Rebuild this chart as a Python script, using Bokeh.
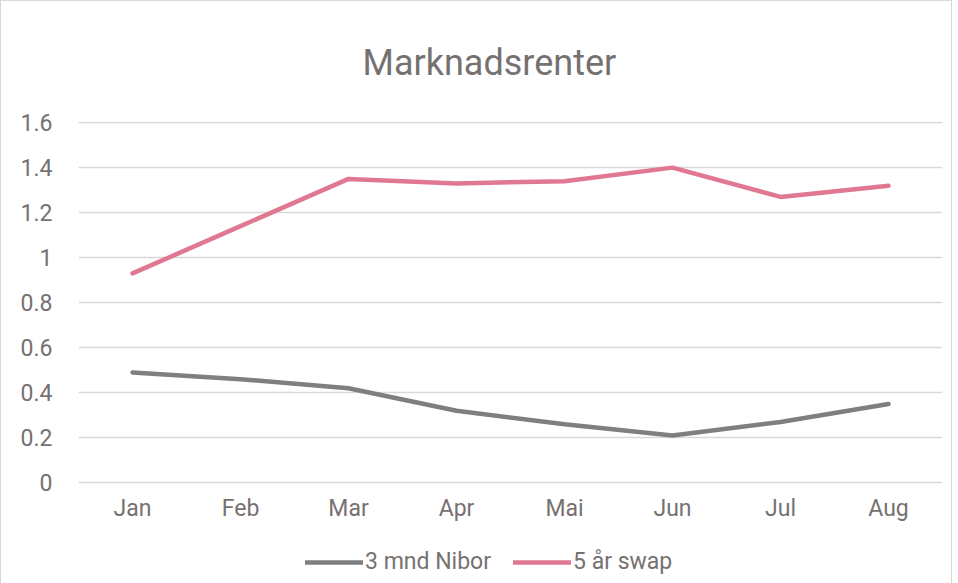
from bokeh.plotting import figure
from bokeh.models import Legend, LegendItem, FixedTicker, NumeralTickFormatter, Range1d, ColumnDataSource
from bokeh.core.properties import value
from bokeh.embed import file_html
from bokeh.resources import INLINE

months = ["Jan", "Feb", "Mar", "Apr", "Mai", "Jun", "Jul", "Aug"]
nibor_3m = [0.49, 0.46, 0.42, 0.32, 0.26, 0.21, 0.27, 0.35]
swap_5y = [0.93, 1.14, 1.35, 1.33, 1.34, 1.40, 1.27, 1.32]
y_ticks = [0, 0.2, 0.4, 0.6, 0.8, 1.0, 1.2, 1.4, 1.6]

TXT = "#767171"
FONT = "Roboto"

# frame extends below 0 so the category labels and legend sit inside it
p = figure(x_range=months, y_range=Range1d(-0.4255, 1.605), frame_width=864, frame_height=457,
           output_backend="svg", toolbar_location=None, x_axis_location=None,
           min_border_left=77, min_border_right=9, min_border_top=111, min_border_bottom=5)
p.x_range.range_padding = 0
p.styles = {"border": "1px solid #d9d9d9"}

p.title.text = "Marknadsrenter"
p.title.align = "left"
p.title.offset = 284
p.title.text_font = FONT
p.title.text_font_style = "normal"
p.title.text_font_size = "36px"
p.title.text_color = TXT
p.title.standoff = 76

r1 = p.line(months, nibor_3m, line_color="#7f7f7f", line_width=4.5, line_cap="round")
r2 = p.line(months, swap_5y, line_color="#e07892", line_width=4.5, line_cap="round")

# category labels under the zero line
label_src = ColumnDataSource(dict(x=months, y=[-0.115] * len(months), t=months))
p.text(x="x", y="y", text="t", source=label_src, text_align="center", text_baseline="middle",
       text_font=value(FONT), text_font_size="23px", text_color=TXT)

p.outline_line_color = None
p.xgrid.grid_line_color = None
p.ygrid.grid_line_color = "#d9d9d9"
p.ygrid.grid_line_width = 1.5
p.yaxis.ticker = FixedTicker(ticks=y_ticks)
p.yaxis.formatter = NumeralTickFormatter(format="0.[0]")
p.yaxis.axis_line_color = None
p.yaxis.major_tick_line_color = None
p.yaxis.minor_tick_line_color = None
p.yaxis.major_label_text_font = FONT
p.yaxis.major_label_text_font_size = "23px"
p.yaxis.major_label_text_color = TXT
p.yaxis.major_label_standoff = 20

legend = Legend(items=[LegendItem(label="3 mnd Nibor", renderers=[r1]),
                       LegendItem(label="5 år swap", renderers=[r2])],
                orientation="horizontal", location=(227, 3),
                label_text_font=FONT, label_text_font_size="23px", label_text_color=TXT,
                glyph_width=58, label_standoff=2, spacing=22, padding=0, margin=0,
                border_line_color=None, background_fill_alpha=0)
p.add_layout(legend)

open("out.html", "w").write(file_html(p, INLINE))
